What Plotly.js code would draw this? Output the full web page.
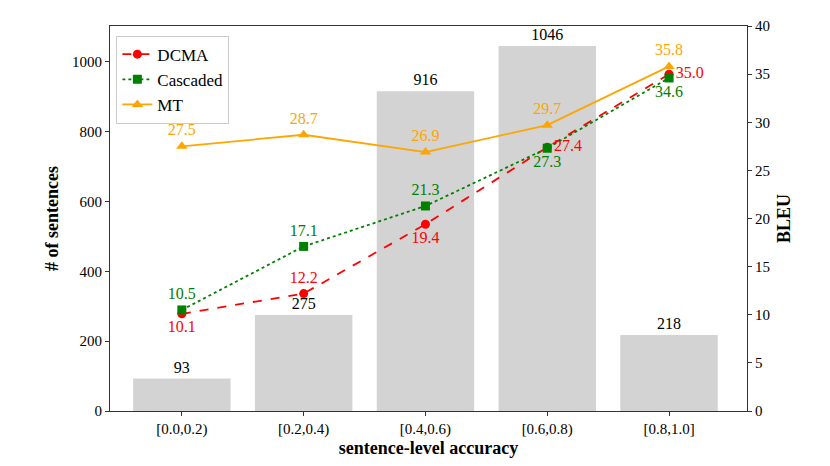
<!DOCTYPE html>
<html>
<head>
<meta charset="utf-8">
<script src="https://cdn.plot.ly/plotly-3.0.1.min.js"></script>
<style>
  html, body { margin: 0; padding: 0; background: #fff; }
  #chart { width: 830px; height: 466px; }
</style>
</head>
<body>
<div id="chart"></div>
<script>
// bins of sentence-level accuracy
const bins = ["[0.0,0.2)", "[0.2,0.4)", "[0.4,0.6)", "[0.6,0.8)", "[0.8,1.0]"];
const sentenceCounts = [93, 275, 916, 1046, 218];

// BLEU per bin
const bleuDCMA = [10.1, 12.2, 19.4, 27.4, 35.0];
const bleuCascaded = [10.5, 17.1, 21.3, 27.3, 34.6];
const bleuMT = [27.5, 28.7, 26.9, 29.7, 35.8];

const xs = bins.map((b, i) => i);
const serif = "Liberation Serif";

const bars = {
  type: "bar",
  x: xs,
  y: sentenceCounts,
  width: 0.8,
  marker: { color: "#d3d3d3" },
  text: sentenceCounts.map(String),
  textposition: "outside",
  cliponaxis: false,
  textfont: { family: serif, size: 16, color: "#000" },
  outsidetextfont: { family: serif, size: 16, color: "#000" },
  showlegend: false,
  hoverinfo: "skip",
};

const dcma = {
  type: "scatter",
  mode: "lines+markers+text",
  name: "DCMA",
  x: xs,
  y: bleuDCMA,
  yaxis: "y2",
  line: { color: "#ff0000", dash: "dash", width: 1.8 },
  marker: { symbol: "circle", size: 9, color: "#ff0000" },
  text: bleuDCMA.map(v => v.toFixed(1)),
  textposition: ["bottom center", "top center", "bottom center", "middle right", "middle right"],
  textfont: { family: serif, size: 16, color: "#ff0000" },
  cliponaxis: false,
};

const cascaded = {
  type: "scatter",
  mode: "lines+markers+text",
  name: "Cascaded",
  x: xs,
  y: bleuCascaded,
  yaxis: "y2",
  line: { color: "#008000", dash: "dot", width: 1.8 },
  marker: { symbol: "square", size: 9, color: "#008000" },
  text: bleuCascaded.map(v => v.toFixed(1)),
  textposition: ["top center", "top center", "top center", "bottom center", "bottom center"],
  textfont: { family: serif, size: 16, color: "#008000" },
  cliponaxis: false,
};

const mt = {
  type: "scatter",
  mode: "lines+markers+text",
  name: "MT",
  x: xs,
  y: bleuMT,
  yaxis: "y2",
  line: { color: "#ffa500", width: 1.8 },
  marker: { symbol: "triangle-up", size: 10, color: "#ffa500" },
  text: bleuMT.map(v => v.toFixed(1)),
  textposition: "top center",
  textfont: { family: serif, size: 16, color: "#ffa500" },
  cliponaxis: false,
};

const layout = {
  width: 830,
  height: 466,
  margin: { l: 110, r: 83, t: 26, b: 55 },
  paper_bgcolor: "#fff",
  plot_bgcolor: "#fff",
  font: { family: serif, size: 15, color: "#000" },
  bargap: 0.2,
  xaxis: {
    range: [-0.59, 4.64],
    tickvals: xs,
    ticktext: bins,
    showgrid: false,
    zeroline: false,
    showline: true,
    linecolor: "#333",
    linewidth: 1,
    mirror: true,
    ticks: "outside",
    ticklen: 4,
    tickcolor: "#333",
    tickfont: { family: serif, size: 15 },
    title: { text: "<b>sentence-level accuracy</b>", font: { family: serif, size: 18 }, standoff: 4 },
  },
  yaxis: {
    range: [0, 1103],
    tickvals: [0, 200, 400, 600, 800, 1000],
    showgrid: false,
    zeroline: false,
    showline: true,
    linecolor: "#333",
    linewidth: 1,
    ticks: "outside",
    ticklen: 4,
    tickcolor: "#333",
    tickfont: { family: serif, size: 15 },
    title: { text: "<b># of sentences</b>", font: { family: serif, size: 18 }, standoff: 8 },
  },
  yaxis2: {
    overlaying: "y",
    side: "right",
    range: [0, 40],
    tickvals: [0, 5, 10, 15, 20, 25, 30, 35, 40],
    showgrid: false,
    zeroline: false,
    showline: true,
    linecolor: "#333",
    linewidth: 1,
    ticks: "outside",
    ticklen: 4,
    tickcolor: "#333",
    tickfont: { family: serif, size: 15 },
    title: { text: "<b>BLEU</b>", font: { family: serif, size: 18 }, standoff: 8 },
  },
  legend: {
    x: 0.01,
    y: 0.975,
    xanchor: "left",
    yanchor: "top",
    bgcolor: "rgba(255,255,255,0.8)",
    bordercolor: "#ccc",
    borderwidth: 1,
    font: { family: serif, size: 17, color: "#000" },
    tracegroupgap: 0,
  },
};

Plotly.newPlot("chart", [bars, dcma, cascaded, mt], layout, { displayModeBar: false, staticPlot: true });
</script>
</body>
</html>
